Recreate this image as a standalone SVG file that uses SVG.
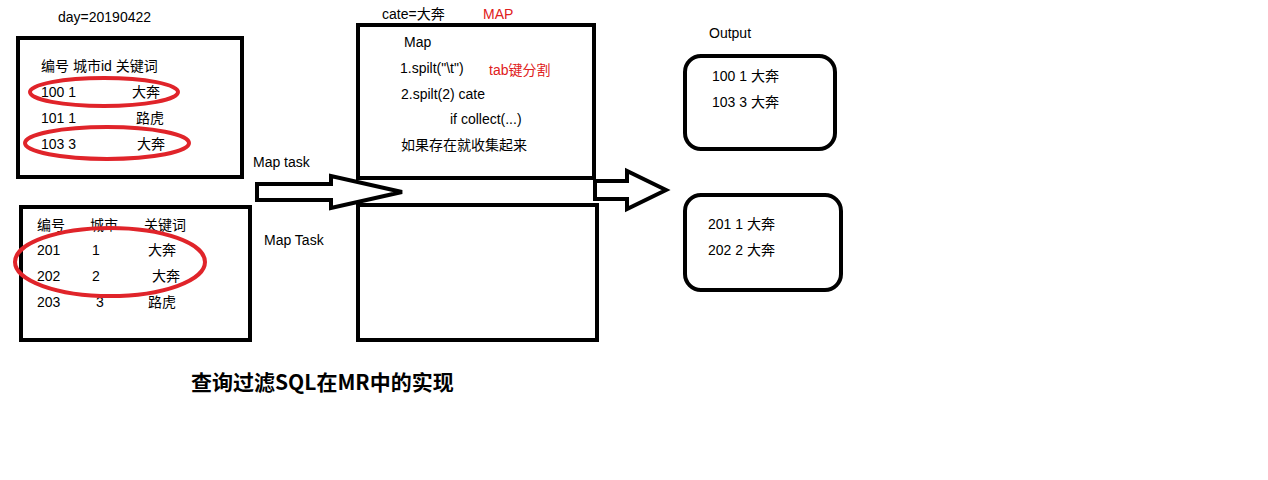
<svg xmlns="http://www.w3.org/2000/svg" width="1268" height="480" viewBox="0 0 1268 480">
<style>
text{font-family:"Liberation Sans","Noto Sans CJK SC",sans-serif;font-size:14px;fill:#000}
.r{fill:#e02020}
.b{fill:none;stroke:#000;stroke-width:4}
.e{fill:none;stroke:#e0242a;stroke-width:4}
</style>
<rect width="1268" height="480" fill="#fff"/>
<text x="58" y="22">day=20190422</text>
<g id="table1">
<rect class="b" x="18" y="38" width="224" height="139"/>
<text x="41" y="71">编号  城市id   关键词</text>
<text x="41" y="97">100    1</text><text x="132" y="97">大奔</text>
<text x="41" y="123">101    1</text><text x="136" y="123">路虎</text>
<text x="41" y="149">103     3</text><text x="137" y="149">大奔</text>
<ellipse class="e" cx="104" cy="92" rx="74" ry="14"/>
<ellipse class="e" cx="107" cy="143" rx="82" ry="16"/>
</g>
<g id="table2">
<rect class="b" x="21" y="207" width="229" height="133"/>
<text x="37" y="230">编号</text><text x="90" y="230">城市</text><text x="144" y="230">关键词</text>
<text x="37" y="255">201</text><text x="92" y="255">1</text><text x="148" y="255">大奔</text>
<text x="37" y="281">202</text><text x="92" y="281">2</text><text x="152" y="281">大奔</text>
<text x="37" y="307">203</text><text x="96" y="307">3</text><text x="148" y="307">路虎</text>
<ellipse class="e" cx="110" cy="262" rx="95" ry="34"/>
</g>
<text x="253" y="167">Map task</text>
<text x="264" y="245">Map Task</text>
<text x="382" y="19">cate=大奔</text><text class="r" x="483" y="19">MAP</text>
<g id="map1">
<rect class="b" x="358" y="25" width="236" height="153"/>
<text x="404" y="47">Map</text>
<text x="400" y="73">1.spilt("\t")</text><text class="r" x="489" y="75">tab键分割</text>
<text x="401" y="99">2.spilt(2) cate</text>
<text x="450" y="124">if collect(...)</text>
<text x="401" y="150">如果存在就收集起来</text>
</g>
<g id="map2"><rect class="b" x="358" y="205" width="239" height="135"/></g>
<text x="709" y="38">Output</text>
<g id="out1">
<rect class="b" x="685" y="56" width="150" height="93" rx="16"/>
<text x="712" y="81">100   1   大奔</text>
<text x="712" y="107">103    3    大奔</text>
</g>
<g id="out2">
<rect class="b" x="685" y="195" width="156" height="95" rx="16"/>
<text x="708" y="229">201   1     大奔</text>
<text x="708" y="255">202   2     大奔</text>
</g>
<g id="connectors">
<polygon class="b" points="257,184 331,184 331,176 402,192 331,208 331,200 257,200"/>
<polygon class="b" points="595,181 627,181 627,171 666,190 627,209 627,199 595,199"/>
</g>
<text x="191" y="390" style="font-size:21px;font-weight:bold;font-family:'Noto Sans CJK SC',sans-serif">查询过滤SQL在MR中的实现</text>
</svg>
